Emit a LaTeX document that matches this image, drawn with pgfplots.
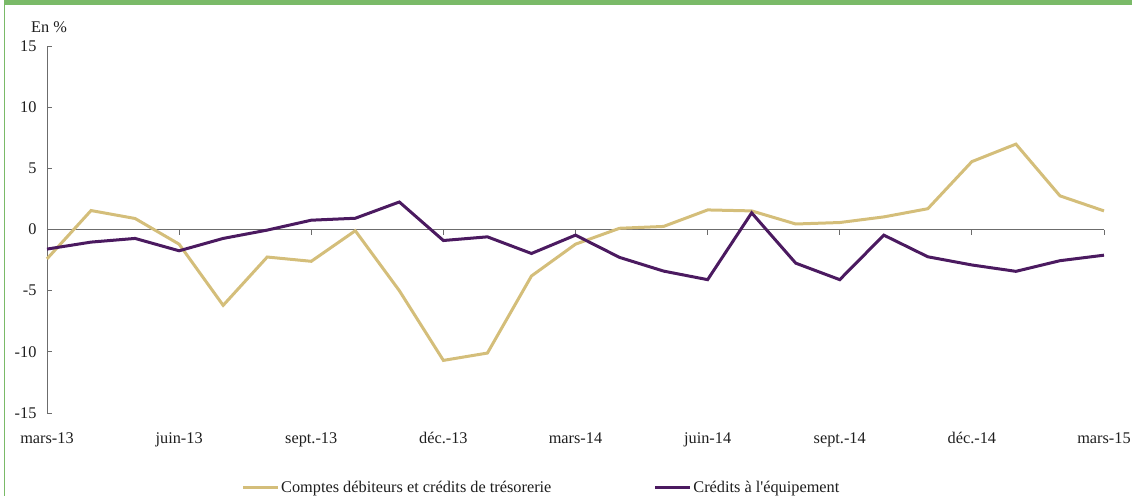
\documentclass[border=0pt]{standalone}
\usepackage{pgfplots}
\pgfplotsset{compat=1.18}
\usepackage{fontspec}
\setmainfont{Liberation Serif}
\newfontfamily\plainserif{Liberation Serif}
\definecolor{gold}{RGB}{212,190,122}
\definecolor{purp}{RGB}{75,26,96}
\definecolor{framegreen}{RGB}{122,186,104}
\definecolor{txt}{RGB}{30,30,30}
\begin{document}
\begin{tikzpicture}[x=1pt,y=1pt]
\useasboundingbox (0,0) rectangle (1132,496);
\fill[framegreen] (5,491) rectangle (1132,496);
\fill[framegreen] (3.8,0) rectangle (5.2,496);
\begin{axis}[
  at={(47pt,83pt)}, anchor=south west,
  scale only axis, width=1057pt, height=367pt,
  xmin=0, xmax=24, ymin=-15, ymax=15,
  clip=false,
  axis y line*=left, axis x line*=bottom,
  x axis line style={draw=none},
  y axis line style={draw=gray!85!black, line width=0.8pt},
  ytick={-15,-10,-5,0,5,10,15},
  ytick style={draw=gray!85!black, line width=0.8pt},
  major tick length=5pt,
  xtick={0,3,6,9,12,15,18,21,24},
  xticklabels={mars-13,juin-13,sept.-13,déc.-13,mars-14,juin-14,sept.-14,déc.-14,mars-15},
  xtick style={draw=none},
  tick label style={font=\fontsize{16.3}{19}\selectfont, text=txt},
  xticklabel style={yshift=-16pt},
  yticklabel style={xshift=-7pt},
  /pgf/number format/assume math mode=true,
  legend style={at={(0.184,-0.204)}, anchor=west, draw=none, inner sep=0pt,
    font=\fontsize{16.3}{19}\selectfont, text=txt,
    nodes={inner sep=1.5pt},
    /tikz/every even column/.style={column sep=101pt}},
  legend columns=2,
  legend image code/.code={\draw[#1] (0pt,0pt) -- (35pt,0pt);},
]
\draw[gray!85!black, line width=0.8pt] (axis cs:0,0) -- (axis cs:24,0);
\pgfplotsinvokeforeach{3,6,9,12,15,18,21,24}{
  \draw[gray!85!black, line width=0.8pt] (axis cs:#1,0) -- ([yshift=-5pt]axis cs:#1,0);
}
\addplot[gold, line width=3pt, line join=miter] coordinates {
(0,-2.4) (1,1.55) (2,0.9) (3,-1.2) (4,-6.2) (5,-2.25) (6,-2.6) (7,-0.1)
(8,-5.0) (9,-10.7) (10,-10.1) (11,-3.8) (12,-1.2) (13,0.1) (14,0.25) (15,1.6)
(16,1.52) (17,0.45) (18,0.57) (19,1.03) (20,1.7) (21,5.55) (22,6.98) (23,2.75) (24,1.52)
};
\addlegendentry{Comptes débiteurs et crédits de trésorerie}
\addplot[purp, line width=3pt, line join=miter] coordinates {
(0,-1.6) (1,-1.03) (2,-0.73) (3,-1.74) (4,-0.73) (5,-0.05) (6,0.76) (7,0.92)
(8,2.25) (9,-0.9) (10,-0.6) (11,-1.96) (12,-0.46) (13,-2.28) (14,-3.4) (15,-4.1)
(16,1.36) (17,-2.75) (18,-4.1) (19,-0.46) (20,-2.23) (21,-2.9) (22,-3.42) (23,-2.55) (24,-2.1)
};
\addlegendentry{{\plainserif Crédits à l'équipement}}
\node[font=\fontsize{16.3}{19}\selectfont, text=txt] at (rel axis cs:0,1) [xshift=2pt,yshift=19pt] {En \%};
\end{axis}
\end{tikzpicture}
\end{document}
